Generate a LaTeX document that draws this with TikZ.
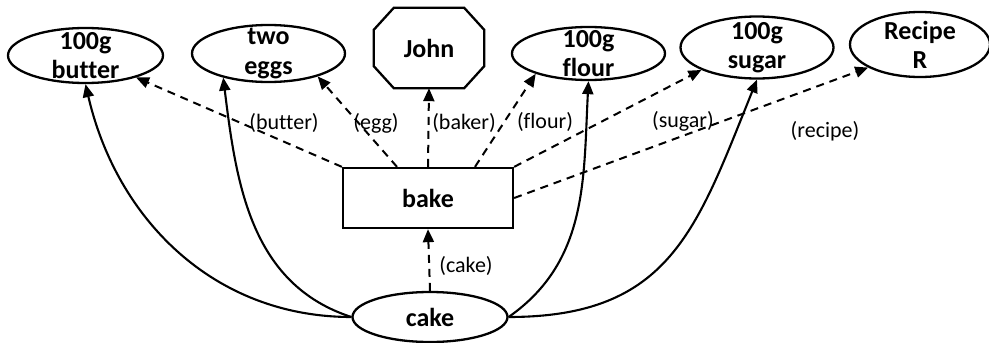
\documentclass[tikz,border=0pt]{standalone}
\usepackage{fontspec}
\setmainfont{Carlito}[Ligatures={NoCommon}]
\usetikzlibrary{arrows.meta,shapes.geometric}
\begin{document}
\begin{tikzpicture}[x=1pt,y=1pt,
  ntxt/.style={font=\bfseries\fontsize{26}{29}\selectfont,align=center},
  ell/.style={ellipse,draw,line width=2.3pt,inner sep=0pt},
  lbl/.style={font=\fontsize{22}{24}\selectfont,inner sep=0pt},
  tip/.style={-{Triangle[length=13pt,width=11pt]}},
  dasharr/.style={tip,line width=2pt,dash pattern=on 8pt off 6pt},
  solarr/.style={tip,line width=2.1pt}]
\useasboundingbox (0,0) rectangle (989,-343);
% nodes
\node[ell,minimum width=155pt,minimum height=55pt,label={[ntxt]center:100g\\butter}] (butter) at (85.5,-55.5) {};
\node[ell,minimum width=153pt,minimum height=57pt,label={[ntxt]center:two\\eggs}] (eggs) at (268.5,-53.5) {};
\node[minimum width=110pt,minimum height=80pt,inner sep=0pt,ntxt] (john) at (429,-48) {John};
\draw[line width=2.3pt] ([xshift=20pt]john.north west) -- ([xshift=-20pt]john.north east)
  -- ([yshift=-22pt]john.north east) -- ([yshift=22pt]john.south east)
  -- ([xshift=-20pt]john.south east) -- ([xshift=20pt]john.south west)
  -- ([yshift=22pt]john.south west) -- ([yshift=-22pt]john.north west) -- cycle;
\node[ell,minimum width=153pt,minimum height=53pt,label={[ntxt]center:100g\\flour}] (flour) at (588.5,-53.5) {};
\node[ell,minimum width=153pt,minimum height=62pt,label={[ntxt]center:100g\\sugar}] (sugar) at (757,-47.5) {};
\node[ell,minimum width=140pt,minimum height=65pt,label={[ntxt]center:Recipe\\R}] (recipe) at (920,-44.5) {};
\node[draw,line width=2.3pt,minimum width=170pt,minimum height=60pt,inner sep=0pt,ntxt] (bake) at (428,-198) {bake};
\node[ell,minimum width=155pt,minimum height=50pt,ntxt] (cake) at (430,-317) {cake};
% labels
\node[lbl] (lbutter) at (284,-123) {(butter)};
\node[lbl] (legg) at (376,-123) {(egg)};
\node[lbl] (lbaker) at (464,-123) {(baker)};
\node[lbl] (lflour) at (545,-122) {(flour)};
\node[lbl] (lsugar) at (683,-121) {(sugar)};
\node[lbl] (lrecipe) at (825,-131) {(recipe)};
\node[lbl] (lcake) at (466,-266) {(cake)};
% dashed connectors
\draw[dasharr] (bake.north west) -- (butter);
\draw[dasharr] ([xshift=-31pt]bake.north) -- (eggs.-25);
\draw[dasharr] (bake.north) -- (john.south);
\draw[dasharr] ([xshift=47pt]bake.north) -- (flour.201);
\draw[dasharr] (bake.north east) -- (sugar.202);
\draw[dasharr] (bake.east) -- (recipe.204);
\draw[dasharr] (cake.north) -- (bake.south);
% solid connectors
\draw[solarr] (cake.west) to[out=180,in=-77] (butter.south);
\draw[solarr] (cake.west) to[out=162,in=-83] (eggs.208);
\draw[solarr] (cake.east) to[out=35,in=-93] (flour.south);
\draw[solarr] (cake.east) to[out=0,in=-112,looseness=1.2] (sugar.south);
\end{tikzpicture}
\end{document}
